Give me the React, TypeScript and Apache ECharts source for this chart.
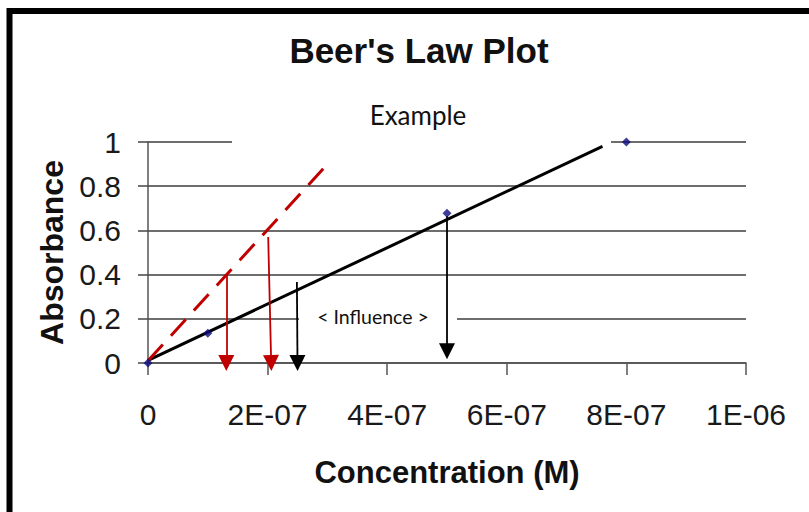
import React, { useEffect, useRef } from "react";
import * as echarts from "echarts";

// Measured data points (Concentration in M, Absorbance)
const concentrations = [0, 1e-7, 5e-7, 8e-7];
const absorbances = [0, 0.135, 0.678, 1.0];

// Black trend line (endpoints)
const fitLine = [
  [0, 0.012],
  [7.6e-7, 0.98],
];
// Red dashed steeper line
const steepLine = [
  [0, 0.01],
  [3e-7, 0.9],
];
// Arrows: [start, end]
const redArrows = [
  [[1.31e-7, 0.397], [1.31e-7, 0]],
  [[2.01e-7, 0.57], [2.06e-7, 0]],
];
const blackArrows = [
  [[2.49e-7, 0.367], [2.5e-7, 0]],
  [[5e-7, 0.665], [5e-7, 0.053]],
];

const xTickLabels = ["0", "2E-07", "4E-07", "6E-07", "8E-07", "1E-06"];
const yTickLabels = ["0", "0.2", "0.4", "0.6", "0.8", "1"];

const titleText = "Beer's Law Plot";
const subtitleText = "Example";
const noteText = "< Influence >";
const xName = "Concentration (M)";
const yName = "Absorbance";

export default function App() {
  const ref = useRef<HTMLDivElement>(null);

  useEffect(() => {
    if (!ref.current) return;
    const chart = echarts.init(ref.current, null, { renderer: "svg" });
    const font = "Liberation Sans, Arial, sans-serif";
    const labelColor = "#1a1a1a";

    chart.setOption({
      animation: false,
      backgroundColor: "#ffffff",
      title: {
        text: titleText,
        left: 414,
        top: 28,
        textAlign: "center",
        textStyle: {
          fontFamily: font,
          fontSize: 35,
          fontWeight: "bold",
          color: "#111",
        },
      },
      grid: { left: 148, top: 142, width: 598, height: 221 },
      xAxis: {
        type: "value",
        min: 0,
        max: 1e-6,
        interval: 2e-7,
        name: xName,
        nameLocation: "middle",
        nameGap: 94,
        nameTextStyle: {
          fontFamily: font,
          fontSize: 31,
          fontWeight: "bold",
          color: "#111",
        },
        axisLine: { show: true, lineStyle: { color: "#555", width: 1.5 } },
        axisTick: { show: true, length: 12, lineStyle: { color: "#555", width: 1.5 } },
        splitLine: { show: false },
        axisLabel: {
          margin: 36,
          fontFamily: font,
          fontSize: 30,
          color: labelColor,
          formatter: (_v: number, i: number) => xTickLabels[i] ?? "",
        },
      },
      yAxis: {
        type: "value",
        min: 0,
        max: 1,
        interval: 0.2,
        name: yName,
        nameLocation: "middle",
        nameGap: 78,
        nameRotate: 90,
        nameTextStyle: {
          fontFamily: font,
          fontSize: 32,
          fontWeight: "bold",
          color: "#111",
        },
        axisLine: { show: true, lineStyle: { color: "#555", width: 1.5 } },
        axisTick: { show: true, length: 10, lineStyle: { color: "#444", width: 1.5 } },
        splitLine: { show: true, lineStyle: { color: "#3d3d3d", width: 1.5 } },
        axisLabel: {
          margin: 27,
          fontFamily: font,
          fontSize: 30,
          color: labelColor,
          formatter: (_v: number, i: number) => yTickLabels[i] ?? "",
        },
      },
      graphic: [
        {
          type: "rect",
          z: 1,
          shape: { x: 232, y: 92, width: 379, height: 51.5 },
          style: { fill: "#ffffff" },
        },
        {
          type: "rect",
          z: 1,
          shape: { x: 299, y: 303, width: 158, height: 30 },
          style: { fill: "#ffffff" },
        },
        {
          type: "text",
          z: 5,
          x: 418,
          y: 115,
          style: {
            text: subtitleText,
            fontFamily: "Lato, Open Sans, sans-serif",
            fontSize: 26,
            fill: "#111",
            align: "center",
            verticalAlign: "middle",
            textAlign: "center",
            textVerticalAlign: "middle",
          },
        },
        {
          type: "text",
          z: 5,
          x: 373,
          y: 316,
          style: {
            text: noteText,
            fontFamily: "Lato, Open Sans, sans-serif",
            fontSize: 19.5,
            fill: "#111",
            align: "center",
            verticalAlign: "middle",
            textAlign: "center",
            textVerticalAlign: "middle",
          },
        },
        {
          type: "rect",
          z: 10,
          shape: { x: 9.5, y: 11, width: 1000, height: 1000 },
          style: { fill: "none", stroke: "#000", lineWidth: 6 },
        },
      ],
      series: [
        {
          type: "line",
          data: fitLine,
          showSymbol: false,
          symbol: "none",
          lineStyle: { color: "#000", width: 3 },
          z: 2,
        },
        {
          type: "line",
          data: steepLine,
          showSymbol: false,
          symbol: "none",
          lineStyle: { color: "#c00000", width: 3, type: [22, 12] },
          z: 2,
        },
        {
          type: "lines",
          coordinateSystem: "cartesian2d",
          clip: false,
          symbol: ["none", "triangle"],
          symbolSize: 16,
          lineStyle: { color: "#c00000", width: 1.8, opacity: 1, curveness: 0 },
          data: redArrows.map((c) => ({ coords: c })),
          z: 3,
        },
        {
          type: "lines",
          coordinateSystem: "cartesian2d",
          clip: false,
          symbol: ["none", "triangle"],
          symbolSize: 16,
          lineStyle: { color: "#000", width: 1.8, opacity: 1, curveness: 0 },
          data: blackArrows.map((c) => ({ coords: c })),
          z: 3,
        },
        {
          type: "scatter",
          data: concentrations.map((c, i) => [c, absorbances[i]]),
          symbol: "diamond",
          symbolSize: 9,
          itemStyle: { color: "#0d0d80" },
          z: 4,
        },
      ],
    });

    return () => chart.dispose();
  }, []);

  return (
    <div
      ref={ref}
      style={{ position: "absolute", left: 0, top: 0, width: 809, height: 512 }}
    />
  );
}
